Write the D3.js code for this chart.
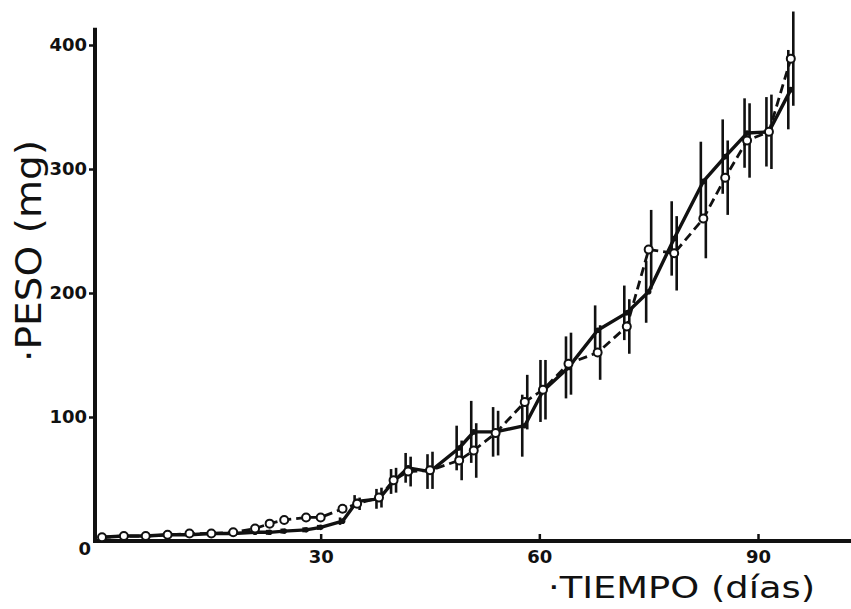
<!DOCTYPE html>
<html>
<head>
<meta charset="utf-8">
<script src="https://cdn.jsdelivr.net/npm/d3@7"></script>
<style>
  html, body { margin: 0; padding: 0; background: #fff; }
  svg { display: block; }
</style>
</head>
<body>
<svg id="chart" width="851" height="609"></svg>
<script>
// ---- data ----
const days = [0,3,6,9,12,15,18,21,23,25,28,30,33,35,38,40,42,45,49,51,54,58,60.5,64,68,72,75,78.5,82.5,85.5,88.5,91.5,94.5];
const solidValues  = [3,4,4,5,5,6,6,7,7,8,9,11,16,32,34,48,59,56,75,88,88,93,121,140,170,184,201,244,290,310,329,330,364];
const solidErrors  = [1,1,1,1,1,1,1,1,2,2,2,2,3,5,8,10,12,14,18,25,20,25,25,25,20,22,25,30,32,30,28,28,32];
const dashedValues = [3,4,4,5,6,6,7,10,14,17,19,19,26,30,35,49,56,57,65,73,87,112,122,143,152,173,235,232,260,293,323,330,389];
const dashedErrors = [1,1,1,1,1,1,1,2,2,2,2,2,3,5,8,10,12,15,16,22,18,22,24,25,22,22,32,30,32,30,30,30,38];
const xTicks = [30, 60, 90];
const yTicks = [0, 100, 200, 300, 400];
const xTitle = "·TIEMPO (días)";
const yTitle = "·PESO (mg)";

// ---- scales ----
const svg = d3.select("#chart");
const x = d3.scaleLinear().domain([0, 90]).range([102, 758]);
const y = d3.scaleLinear().domain([0, 400]).range([541, 45]);

const solid = days.map((d, i) => ({d, v: solidValues[i], e: solidErrors[i]}));
const dashed = days.map((d, i) => ({d, v: dashedValues[i], e: dashedErrors[i]}));

// ---- axes ----
const ink = "#111";
const axisX0 = x.invert(95), axisX1 = x.invert(851);

svg.append("line")
  .attr("x1", x(axisX0)).attr("x2", x(axisX0))
  .attr("y1", y(414)).attr("y2", y(-1.5))
  .attr("stroke", ink).attr("stroke-width", 4);
svg.append("line")
  .attr("x1", x(axisX0) - 2).attr("x2", x(axisX1))
  .attr("y1", y(0)).attr("y2", y(0))
  .attr("stroke", ink).attr("stroke-width", 4);

const yAxis = d3.axisLeft(y).tickValues(yTicks).tickSize(6).tickPadding(2).tickFormat(d3.format("d"));
const gy = svg.append("g").attr("transform", `translate(${x(axisX0)},0)`).call(yAxis);
gy.select(".domain").remove();
gy.selectAll(".tick line").attr("stroke", ink).attr("stroke-width", 2.5);
gy.selectAll(".tick text")
  .attr("fill", ink)
  .style("font-family", "'DejaVu Sans', sans-serif")
  .style("font-weight", "bold")
  .style("font-size", "18px");
gy.selectAll(".tick").filter(d => d === 0).select("text").attr("dy", "0.75em").attr("x", -4);
gy.selectAll(".tick").filter(d => d === 0).select("line").remove();

const xAxis = d3.axisBottom(x).tickValues(xTicks).tickSizeInner(-7).tickSizeOuter(0).tickPadding(9).tickFormat(d3.format("d"));
const gx = svg.append("g").attr("transform", `translate(0,${y(0)})`).call(xAxis);
gx.select(".domain").remove();
gx.selectAll(".tick line").attr("stroke", ink).attr("stroke-width", 2.5);
gx.selectAll(".tick text")
  .attr("fill", ink)
  .style("font-family", "'DejaVu Sans', sans-serif")
  .style("font-weight", "bold")
  .style("font-size", "18px");

// ---- titles ----
svg.append("text")
  .attr("x", 548).attr("y", 598)
  .attr("textLength", 267).attr("lengthAdjust", "spacingAndGlyphs")
  .attr("fill", ink)
  .style("font-family", "'DejaVu Sans', sans-serif")
  .style("font-size", "31px")
  .text(xTitle);

svg.append("text")
  .attr("transform", "translate(41,362) rotate(-90)")
  .attr("textLength", 222).attr("lengthAdjust", "spacingAndGlyphs")
  .attr("fill", ink)
  .style("font-family", "'DejaVu Sans', sans-serif")
  .style("font-size", "36px")
  .text(yTitle);

// ---- error bars ----
const plot = svg.append("g");
function errBars(data, dx) {
  plot.append("g").selectAll("line").data(data).join("line")
    .attr("x1", p => x(p.d) + dx).attr("x2", p => x(p.d) + dx)
    .attr("y1", p => y(p.v + p.e)).attr("y2", p => y(Math.max(0, p.v - p.e)))
    .attr("stroke", ink).attr("stroke-width", 2.6);
}
errBars(solid, -2.5);
errBars(dashed, 2.5);

// ---- lines ----
const line = d3.line().x(p => x(p.d)).y(p => y(p.v));
plot.append("path").datum(dashed).attr("d", line)
  .attr("fill", "none").attr("stroke", ink).attr("stroke-width", 2.8)
  .attr("stroke-dasharray", "9,5");
plot.append("path").datum(solid).attr("d", line)
  .attr("fill", "none").attr("stroke", ink).attr("stroke-width", 3.4)
  .attr("stroke-linejoin", "round");

// ---- markers ----
plot.append("g").selectAll("circle").data(solid).join("circle")
  .attr("cx", p => x(p.d)).attr("cy", p => y(p.v)).attr("r", 2.8)
  .attr("fill", ink);
plot.append("g").selectAll("circle").data(dashed).join("circle")
  .attr("cx", p => x(p.d)).attr("cy", p => y(p.v)).attr("r", 4)
  .attr("fill", "#fff").attr("stroke", ink).attr("stroke-width", 2);
</script>
</body>
</html>
